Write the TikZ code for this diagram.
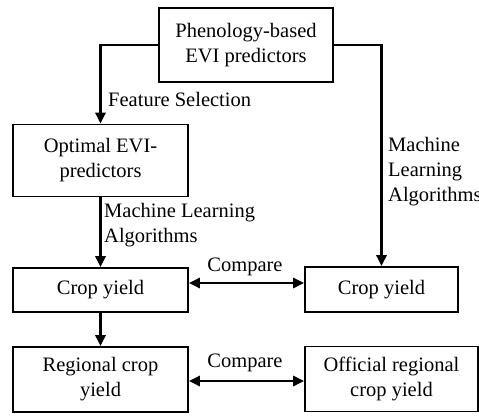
\documentclass[tikz,border=0pt]{standalone}
\usepackage{fontspec}
\setmainfont{Liberation Serif}
\usetikzlibrary{arrows.meta}
\begin{document}
\begin{tikzpicture}[x=1pt,y=-1pt,
  box/.style={draw,line width=1.7pt,inner sep=0pt,align=center,font=\fontsize{20.5}{25}\selectfont},
  lbl/.style={inner sep=0pt,font=\fontsize{20.5}{25}\selectfont},
  arr/.style={line width=2.8pt,-{Triangle[length=11pt,width=10pt]}},
  darr/.style={line width=2.8pt,{Triangle[length=11pt,width=10pt]}-{Triangle[length=11pt,width=10pt]}}]
\useasboundingbox (0,0) rectangle (479,415);
\node[box,minimum width=174pt,minimum height=74pt] (top) at (246,45) {Phenology-based\\EVI predictors};
\node[box,minimum width=175pt,minimum height=72pt] (opt) at (100.5,160.5) {Optimal EVI-\\predictors};
\node[box,minimum width=175pt,minimum height=44pt] (cropL) at (100.5,290) {Crop yield};
\node[box,minimum width=153pt,minimum height=45pt] (cropR) at (381.5,289.5) {Crop yield};
\node[box,minimum width=175pt,minimum height=65pt] (reg) at (100.5,379.5) {Regional crop\\yield};
\node[box,minimum width=173pt,minimum height=65pt] (off) at (391.5,379) {Official regional\\crop yield};
\draw[arr] (top.west) -| (opt.north);
\draw[arr] (top.east) -| (cropR.north);
\draw[arr] (opt.south) -- (cropL.north);
\draw[arr] (cropL.south) -- (reg.north);
\draw[darr] (cropL.east |- 0,283) -- (cropR.west |- 0,283);
\draw[darr] (reg.east |- 0,381) -- (off.west |- 0,381);
\node[lbl,anchor=west] (fs) at (108,99) {Feature Selection};
\node[lbl,anchor=north west,align=left] (mlL) at (104,203) {Machine Learning\\Algorithms};
\node[lbl,anchor=west,align=left] (mlR) at (388,172) {Machine\\Learning\\Algorithms};
\node[lbl] (c1) at (245,267) {Compare};
\node[lbl] (c2) at (245,363) {Compare};
\end{tikzpicture}
\end{document}
